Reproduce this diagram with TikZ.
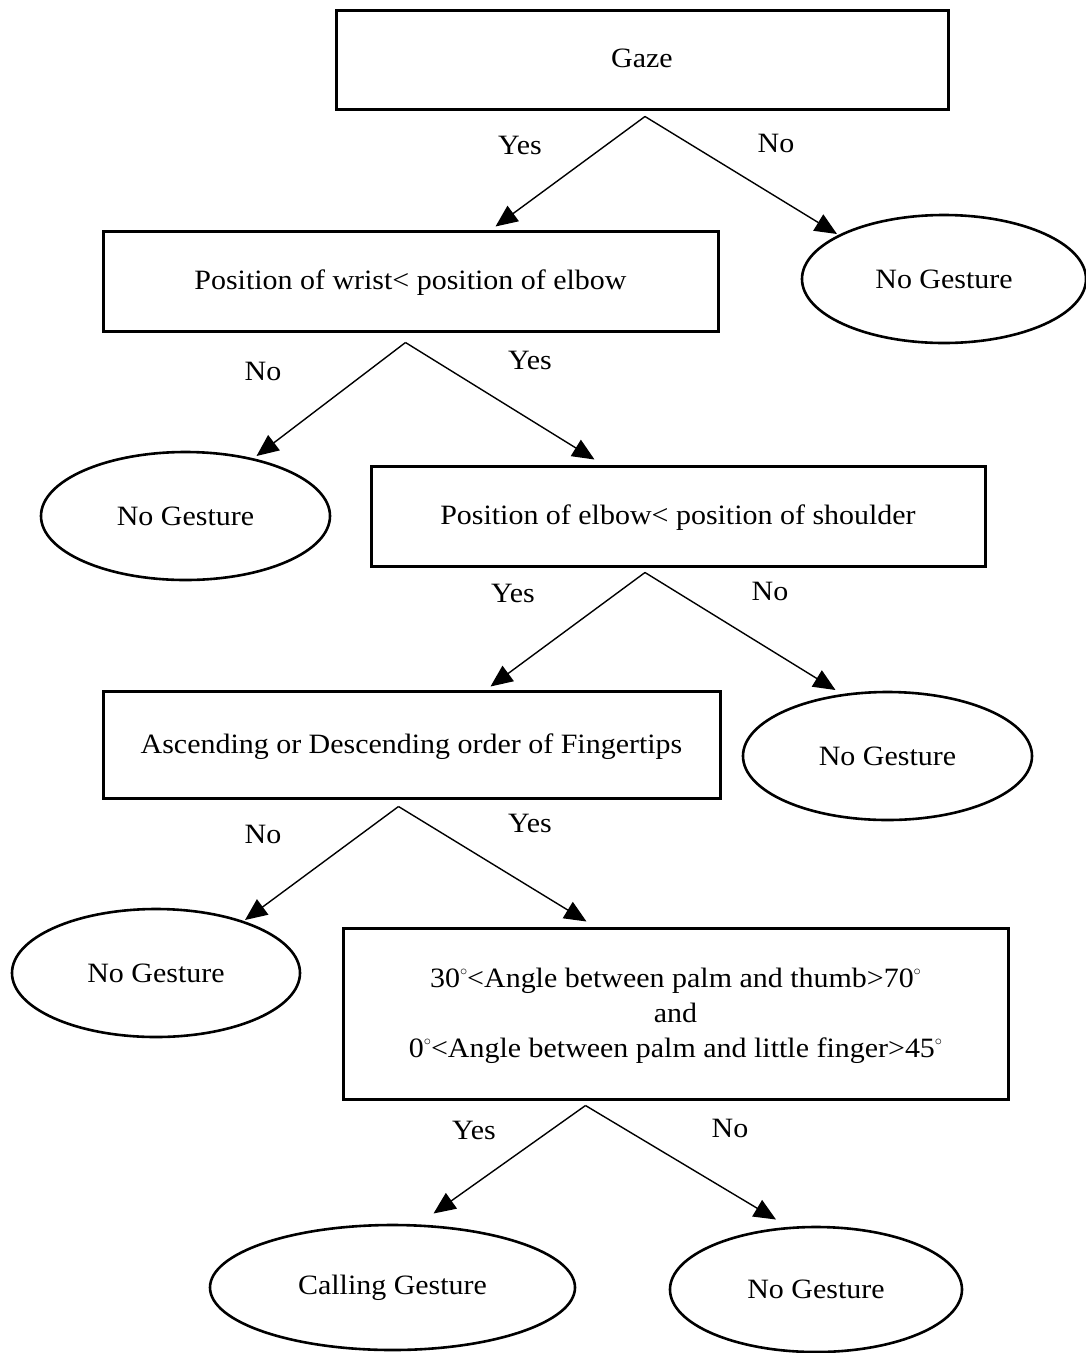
\documentclass[tikz,border=0pt]{standalone}
\usepackage{fontspec}
\setmainfont[FakeStretch=1.07]{Liberation Serif}
\usetikzlibrary{shapes.geometric,arrows.meta,calc}
\newcommand{\degr}{\raisebox{0.9ex}{$\scriptscriptstyle\circ$}}
\begin{document}
\begin{tikzpicture}[x=1pt,y=-1pt,
  every node/.style={font=\fontsize{28}{35}\selectfont},
  testbox/.style={draw,line width=3pt,minimum width=#1,inner sep=0pt,align=center,text depth=2pt},
  leaf/.style={draw,ellipse,line width=2.6pt,inner sep=0pt},
  link/.style={line width=1.4pt,-{Triangle[length=22pt,width=19pt]}},
  lbl/.style={inner sep=0pt}]
\useasboundingbox[fill=white] (0,0) rectangle (1086,1353);

% decision boxes
\node[testbox=612pt,minimum height=99pt] (b1) at (642,59.5) {Gaze};
\node[testbox=615pt,minimum height=100pt] (b2) at (410.5,281) {Position of wrist< position of elbow};
\node[testbox=614pt,minimum height=100pt] (b3) at (678,516) {Position of elbow< position of shoulder};
\node[testbox=617pt,minimum height=107pt] (b4) at (411.5,744.5) {Ascending or Descending order of Fingertips};
\node[testbox=665pt,minimum height=171pt] (b5) at (675.5,1013.5)
  {30\degr<Angle between palm and thumb>70\degr\\ and\\ 0\degr<Angle between palm and little finger>45\degr};

% outcomes
\node[leaf,minimum width=284pt,minimum height=128pt] (e1) at (944,279) {No Gesture};
\node[leaf,minimum width=289pt,minimum height=128pt] (e2) at (185.5,516) {No Gesture};
\node[leaf,minimum width=289pt,minimum height=128pt] (e3) at (887.5,756) {No Gesture};
\node[leaf,minimum width=288pt,minimum height=128pt] (e4) at (156,973) {No Gesture};
\node[leaf,minimum width=365pt,minimum height=125pt] (e5) at (392.5,1287.5) {Calling Gesture};
\node[leaf,minimum width=292pt,minimum height=125pt] (e6) at (816,1289.5) {No Gesture};

% branch points below each test
\coordinate (f1) at ($(b1.south)+(3,6)$);
\coordinate (f2) at ($(b2.south)+(-5,10)$);
\coordinate (f3) at ($(b3.south)+(-33,5)$);
\coordinate (f4) at ($(b4.south)+(-13,7)$);
\coordinate (f5) at ($(b5.south)+(-90,5)$);

% branches
\draw[link] (f1) -- ($(b2.north west)+(394,-3)$);
\draw[link] (f1) -- ($(e1.center)+(-107,-45)$);
\draw[link] (f2) -- ($(e2.center)+(71,-60)$);
\draw[link] (f2) -- ($(b3.north west)+(225,-5)$);
\draw[link] (f3) -- ($(b4.north west)+(389,-3)$);
\draw[link] (f3) -- ($(e3.center)+(-52,-66)$);
\draw[link] (f4) -- ($(e4.center)+(89,-53)$);
\draw[link] (f4) -- ($(b5.north west)+(245,-5)$);
\draw[link] (f5) -- ($(e5.center)+(41,-74)$);
\draw[link] (f5) -- ($(e6.center)+(-40,-70)$);

% branch labels
\node[lbl] (y1) at (520,145) {Yes};
\node[lbl] (n1) at (776,143) {No};
\node[lbl] (n2) at (263,371) {No};
\node[lbl] (y2) at (530,360) {Yes};
\node[lbl] (y3) at (513,593) {Yes};
\node[lbl] (n3) at (770,591) {No};
\node[lbl] (n4) at (263,834) {No};
\node[lbl] (y4) at (530,823) {Yes};
\node[lbl] (y5) at (474,1130) {Yes};
\node[lbl] (n5) at (730,1128) {No};
\end{tikzpicture}
\end{document}
